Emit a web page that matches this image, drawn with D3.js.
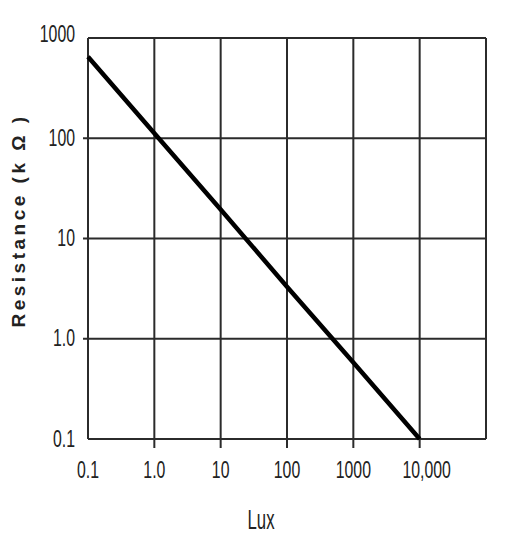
<!DOCTYPE html>
<html>
<head>
<meta charset="utf-8">
<script src="https://cdn.jsdelivr.net/npm/d3@7"></script>
<style>
  html, body { margin: 0; padding: 0; background: #fff; }
  svg { display: block; }
</style>
</head>
<body>
<svg id="chart" width="528" height="542"></svg>
<script>
// ---- data ----
const luxValues = [0.1, 1, 10, 100, 1000, 10000];
const resistanceValues = [650, 112, 19.5, 3.3, 0.58, 0.1];
const xTickValues = [0.1, 1, 10, 100, 1000, 10000];
const xTickLabels = ["0.1", "1.0", "10", "100", "1000", "10,000"];
const yTickValues = [0.1, 1, 10, 100, 1000];
const yTickLabels = ["0.1", "1.0", "10", "100", "1000"];
const xDomain = [0.1, 100000];
const yDomain = [0.1, 1000];
const xTitle = "Lux";
const yTitle = "Resistance (k Ω )";

// ---- layout ----
const svg = d3.select("#chart");
const mLeft = 88, mRight = 486, mTop = 38, mBottom = 439;
const numFont = "'Liberation Sans', Arial, sans-serif";
const gridColor = "#2b2b2b";
const narrow = 0.66;   // horizontal condensing of the numeric labels

const x = d3.scaleLog().domain(xDomain).range([mLeft, mRight]);
const y = d3.scaleLog().domain(yDomain).range([mBottom, mTop]);

const g = svg.append("g");

// horizontal grid lines (with short left ticks on interior lines)
const isEdgeY = v => v === yDomain[0] || v === yDomain[1];
g.selectAll("line.hgrid").data(yTickValues).enter().append("line")
  .attr("class", "hgrid")
  .attr("x1", d => isEdgeY(d) ? x(xDomain[0]) : x(xDomain[0]) - 5)
  .attr("x2", x(xDomain[1]))
  .attr("y1", d => y(d)).attr("y2", d => y(d))
  .attr("stroke", gridColor).attr("stroke-width", 2);

// vertical grid lines (with ticks below on interior lines)
const vLines = xTickValues.concat([xDomain[1]]);
const isEdgeX = v => v === xDomain[0] || v === xDomain[1];
g.selectAll("line.vgrid").data(vLines).enter().append("line")
  .attr("class", "vgrid")
  .attr("x1", d => x(d)).attr("x2", d => x(d))
  .attr("y1", y(yDomain[1]))
  .attr("y2", d => isEdgeX(d) ? y(yDomain[0]) : y(yDomain[0]) + 9)
  .attr("stroke", gridColor).attr("stroke-width", 2);

// y tick labels
g.selectAll("text.ylab").data(yTickValues).enter().append("text")
  .attr("class", "ylab")
  .attr("transform", d => `translate(${x(xDomain[0]) - 13},${y(d) - (d === yDomain[1] ? 5 : 1)}) scale(${narrow},1)`)
  .attr("dy", "0.36em")
  .attr("text-anchor", "end")
  .attr("font-family", numFont)
  .attr("font-size", 24)
  .attr("fill", "#222")
  .text((d, i) => yTickLabels[i]);

// x tick labels
g.selectAll("text.xlab").data(xTickValues).enter().append("text")
  .attr("class", "xlab")
  .attr("transform", (d, i) => `translate(${x(d) + (xTickLabels[i].includes(",") ? 7 : 0)},${y(yDomain[0]) + 39}) scale(${narrow},1)`)
  .attr("text-anchor", "middle")
  .attr("font-family", numFont)
  .attr("font-size", 24)
  .attr("fill", "#222")
  .text((d, i) => xTickLabels[i]);

// curve
const line = d3.line().x(d => x(d[0])).y(d => y(d[1]));
g.append("path")
  .datum(luxValues.map((v, i) => [v, resistanceValues[i]]))
  .attr("d", line)
  .attr("fill", "none")
  .attr("stroke", "#000")
  .attr("stroke-width", 4.5)
  .attr("stroke-linecap", "butt");

// axis titles
g.append("text")
  .attr("transform", `translate(261,529) scale(0.62,1)`)
  .attr("text-anchor", "middle")
  .attr("font-family", numFont)
  .attr("font-size", 27)
  .attr("fill", "#222")
  .text(xTitle);

g.append("text")
  .attr("transform", `translate(25, ${(mTop + mBottom) / 2 - 18}) rotate(-90)`)
  .attr("text-anchor", "middle")
  .attr("font-family", "'Liberation Sans', Arial, sans-serif")
  .attr("font-weight", "bold")
  .attr("font-size", 19)
  .attr("letter-spacing", 3.5)
  .attr("fill", "#222")
  .text(yTitle);
</script>
</body>
</html>
